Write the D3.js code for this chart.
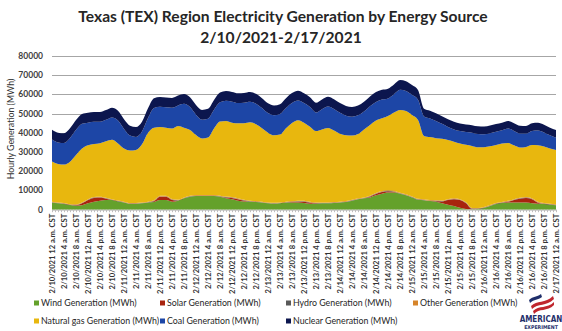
<!DOCTYPE html>
<html>
<head>
<meta charset="utf-8">
<script src="https://cdn.jsdelivr.net/npm/d3@7"></script>
<style>
  body { margin: 0; background: #fff; }
  svg { display: block; font-family: Lato, "Open Sans", sans-serif; }
</style>
</head>
<body>
<div id="chart"></div>
<script>
// Hourly generation by source, sampled every 2 hours from 2/10 12 a.m. to 2/17 12 a.m. (MWh)
const wind = [3700, 3300, 3000, 2400, 2100, 2300, 3300, 4200, 4700, 5000, 5000, 4300, 3700, 3000, 3000, 3300,
  3700, 4000, 5000, 5000, 4200, 4700, 5900, 6800, 7100, 7100, 7100, 7100, 6800, 5900, 5400, 4700,
  4300, 4200, 4000, 3700, 3300, 3100, 3300, 3700, 3800, 3700, 3500, 3100, 3100, 3300, 3300, 3500,
  3700, 4000, 4700, 5400, 5900, 6400, 7500, 8300, 8900, 8900, 8300, 7500, 6400, 5200, 4900, 4500,
  4200, 3300, 2600, 1900, 1000, 400, 200, 400, 900, 1900, 3000, 3500, 3700, 3800, 3800, 3700,
  3300, 3100, 3000, 2600, 2300];
const solar = [0, 0, 0, 0, 200, 1000, 1700, 1900, 1600, 700, 0, 0, 0, 0, 0, 0,
  0, 400, 1700, 1700, 900, 0, 0, 0, 0, 0, 0, 0, 0, 500, 700, 700,
  400, 0, 0, 0, 0, 0, 0, 0, 200, 500, 700, 500, 200, 0, 0, 0,
  0, 0, 0, 0, 0, 400, 700, 900, 700, 400, 0, 0, 0, 0, 0, 0,
  200, 1000, 2400, 3500, 4000, 3000, 200, 0, 0, 0, 0, 0, 400, 1200, 1900, 2400,
  2100, 500, 0, 0, 0];
const hydro = [200, 200, 200, 200, 200, 200, 200, 200, 200, 200, 200, 200, 200, 200, 200, 200,
  200, 200, 200, 200, 200, 200, 200, 200, 200, 200, 200, 200, 200, 200, 200, 200,
  200, 200, 200, 200, 200, 200, 200, 200, 200, 200, 200, 200, 200, 200, 200, 200,
  200, 200, 200, 200, 200, 200, 200, 200, 200, 200, 200, 200, 200, 200, 200, 200,
  200, 200, 200, 200, 200, 200, 200, 200, 200, 200, 200, 200, 200, 200, 200, 200,
  200, 200, 200, 200, 200];
const other = [300, 300, 300, 300, 300, 300, 300, 300, 300, 300, 300, 300, 300, 300, 300, 300,
  300, 300, 300, 300, 300, 300, 300, 300, 300, 300, 300, 300, 300, 300, 300, 300,
  300, 300, 300, 300, 300, 300, 300, 300, 300, 300, 300, 300, 300, 300, 300, 300,
  300, 300, 300, 300, 300, 300, 300, 300, 300, 300, 300, 300, 300, 300, 300, 300,
  300, 300, 300, 300, 300, 300, 300, 300, 300, 300, 300, 300, 300, 300, 300, 300,
  300, 300, 300, 300, 300];
const gas = [20900, 20000, 20000, 22100, 25700, 28100, 28100, 27600, 27800, 29400, 30900, 29700, 27600, 27300, 27600, 30300,
  35900, 37800, 35900, 35400, 36600, 38400, 36300, 34200, 31300, 29500, 30000, 34700, 38600, 39300, 38700, 39100,
  39800, 40800, 40000, 38200, 36300, 35100, 35300, 38200, 40600, 41900, 40600, 39100, 37100, 38000, 38700, 37200,
  35300, 34200, 33400, 33500, 35400, 36800, 37700, 37900, 38700, 40800, 43100, 43400, 42400, 41000, 33000, 32800,
  32300, 32100, 30800, 29500, 29000, 29900, 32300, 31600, 31100, 30600, 30200, 30400, 30100, 28000, 26200, 26100,
  27800, 29500, 29400, 28800, 28300];
const coal = [11400, 11200, 11200, 12300, 13100, 12800, 11700, 11600, 11200, 11200, 11600, 11900, 10200, 7800, 6800, 6600,
  7600, 10200, 10500, 10700, 10900, 10700, 12400, 11900, 10500, 9700, 9800, 9700, 10000, 10500, 10900, 10500,
  10700, 10700, 10700, 10500, 10200, 10400, 10700, 10500, 10500, 10200, 10200, 10200, 9700, 10500, 11200, 11200,
  10900, 10200, 9800, 9700, 9300, 9700, 9700, 9700, 9100, 9500, 10500, 10400, 10500, 10500, 10100, 9700,
  9000, 7800, 6800, 6400, 6400, 6600, 6800, 6900, 6800, 6800, 6900, 6900, 7500, 7500, 7300, 6900,
  7300, 7600, 7300, 6800, 6400];
const nuclear = [5100, 5100, 5100, 5100, 5100, 5100, 5100, 5100, 5100, 5100, 5100, 5100, 5100, 5100, 5100, 5100,
  5100, 5100, 5100, 5100, 5100, 5100, 5100, 5100, 5100, 5100, 5100, 5100, 5100, 5100, 5100, 5100,
  5100, 5100, 5100, 5100, 5100, 5100, 5100, 5100, 5100, 5100, 5100, 5100, 5100, 5100, 5100, 5100,
  5100, 5100, 5100, 5100, 5100, 5100, 5100, 5100, 5100, 5100, 5100, 5100, 5100, 5100, 4000, 4000,
  4000, 4000, 4000, 4000, 4000, 4000, 4000, 4000, 4000, 4000, 4000, 4000, 4000, 4000, 4000, 4000,
  4000, 4000, 4000, 4000, 4000];

// x-axis label parts, one label every 4 hours
const labelDays = ['2/10/2021', '2/11/2021', '2/12/2021', '2/13/2021', '2/14/2021', '2/15/2021', '2/16/2021', '2/17/2021'];
const labelTimes = ['12 a.m.', '4 a.m.', '8 a.m.', '12 p.m.', '4 p.m.', '8 p.m.'];
const yTicks = [0, 10000, 20000, 30000, 40000, 50000, 60000, 70000, 80000];

const series = [
  { key: 'wind', name: 'Wind Generation (MWh)', color: '#64a12b', values: wind },
  { key: 'solar', name: 'Solar Generation (MWh)', color: '#a8240e', values: solar },
  { key: 'hydro', name: 'Hydro Generation (MWh)', color: '#595959', values: hydro },
  { key: 'other', name: 'Other Generation (MWh)', color: '#d6842a', values: other },
  { key: 'gas', name: 'Natural gas Generation (MWh)', color: '#e8b70e', values: gas },
  { key: 'coal', name: 'Coal Generation (MWh)', color: '#1d46a6', values: coal },
  { key: 'nuclear', name: 'Nuclear Generation (MWh)', color: '#0c164e', values: nuclear }
];

const width = 562;
const height = 331;
const margin = { left: 52, right: 6, top: 56, bottom: 121 };

// one row per sample, hour offset from the start
const rows = wind.map((_, i) => {
  const row = { hour: i * 2 };
  series.forEach(s => { row[s.key] = s.values[i]; });
  return row;
});

const labels = [];
labelDays.forEach((day, di) => {
  labelTimes.forEach((t, ti) => {
    if (di < labelDays.length - 1 || ti === 0) labels.push({ hour: di * 24 + ti * 4, text: `${day} ${t} CST` });
  });
});

const svg = d3.select('#chart')
  .append('svg')
  .attr('width', width)
  .attr('height', height);

svg.append('rect').attr('width', width).attr('height', height).attr('fill', '#fff');

const x = d3.scaleLinear().domain([0, 168]).range([margin.left, width - margin.right]);
const y = d3.scaleLinear().domain([0, 80000]).range([height - margin.bottom - 0.3, margin.top]);

// title
const title = svg.append('g')
  .attr('font-weight', 700)
  .attr('fill', '#262626')
  .attr('text-anchor', 'middle');
title.append('text').attr('x', 283).attr('y', 22).attr('font-size', 15.6)
  .text('Texas (TEX) Region Electricity Generation by Energy Source');
title.append('text').attr('x', 281).attr('y', 43).attr('font-size', 15.6)
  .text('2/10/2021-2/17/2021');

// gridlines
svg.append('g')
  .selectAll('line')
  .data(yTicks.slice(1))
  .enter()
  .append('line')
  .attr('x1', x(0))
  .attr('x2', x(168))
  .attr('y1', d => Math.round(y(d)) + 0.5)
  .attr('y2', d => Math.round(y(d)) + 0.5)
  .attr('stroke', '#a6a6a6')
  .attr('stroke-width', 1);

// y tick labels
svg.append('g')
  .selectAll('text')
  .data(yTicks)
  .enter()
  .append('text')
  .attr('x', 43)
  .attr('y', d => y(d) + 3)
  .attr('text-anchor', 'end')
  .attr('font-size', 8.5)
  .attr('font-weight', 700)
  .attr('fill', '#404040')
  .text(d => d);

svg.append('text')
  .attr('transform', `translate(14,${129}) rotate(-90)`)
  .attr('text-anchor', 'middle')
  .attr('font-size', 8.8)
  .attr('fill', '#333')
  .text('Hourly Generation (MWh)');

// stacked areas
const stack = d3.stack().keys(series.map(s => s.key));
const layers = stack(rows);

const area = d3.area()
  .x(d => x(d.data.hour))
  .y0(d => y(d[0]))
  .y1(d => y(d[1]))
  .curve(d3.curveMonotoneX);

svg.append('g')
  .selectAll('path')
  .data(layers)
  .enter()
  .append('path')
  .attr('d', area)
  .attr('fill', (d, i) => series[i].color);

// x axis with hourly ticks
svg.append('g')
  .attr('transform', `translate(0,${y(0)})`)
  .call(d3.axisBottom(x).tickValues(d3.range(0, 169)).tickSize(2.5).tickSizeOuter(0).tickFormat(''))
  .call(g => g.select('.domain').attr('stroke', '#bfbfbf'))
  .call(g => g.selectAll('.tick line').attr('stroke', '#bfbfbf'));

svg.append('g')
  .selectAll('text')
  .data(labels)
  .enter()
  .append('text')
  .attr('transform', d => `translate(${x(d.hour) + 2.8},${y(0) + 4}) rotate(-90)`)
  .attr('text-anchor', 'end')
  .attr('font-size', 7.6)
  .attr('font-weight', 700)
  .attr('fill', '#333')
  .text(d => d.text);

// legend, two rows
const legendPos = [[34, 306], [160, 306], [286, 306], [413, 306], [34, 324], [160, 324], [286, 324]];
const legendOrder = ['wind', 'solar', 'hydro', 'other', 'gas', 'coal', 'nuclear'];
const legend = svg.append('g')
  .selectAll('g')
  .data(legendOrder.map(k => series.find(s => s.key === k)))
  .enter()
  .append('g')
  .attr('transform', (d, i) => `translate(${legendPos[i][0]},${legendPos[i][1]})`);

legend.append('rect')
  .attr('x', 0)
  .attr('y', -5.5)
  .attr('width', 5)
  .attr('height', 5)
  .attr('fill', d => d.color);

legend.append('text')
  .attr('x', 7)
  .attr('y', 0)
  .attr('font-size', 8.8)
  .attr('fill', '#262626')
  .text(d => d.name);

// logo mark
const logo = svg.append('g').attr('transform', 'translate(541,0)');
logo.append('path')
  .attr('d', 'M-10,306 C-4,300 4,304 12,296 L13,299 C5,307 -3,303 -9,309 Z')
  .attr('fill', '#c0262d');
logo.append('path')
  .attr('d', 'M-8,311 C-2,305 6,309 13,302 L13,305 C6,312 -2,308 -7,314 Z')
  .attr('fill', '#c0262d');
logo.append('path')
  .attr('d', 'M-12,300 C-8,296 -4,297 0,294 L1,297 C-3,300 -7,299 -11,303 Z')
  .attr('fill', '#1f2f6b');
logo.append('text')
  .attr('x', 0)
  .attr('y', 322)
  .attr('text-anchor', 'middle')
  .attr('font-family', '"DejaVu Sans Condensed", "DejaVu Sans", sans-serif')
  .attr('font-stretch', 'condensed')
  .attr('font-weight', 700)
  .attr('font-size', 8)
  .attr('fill', '#1f2f6b')
  .text('AMERICAN');
logo.append('text')
  .attr('x', 0)
  .attr('y', 328.5)
  .attr('text-anchor', 'middle')
  .attr('font-family', '"DejaVu Sans Condensed", "DejaVu Sans", sans-serif')
  .attr('font-stretch', 'condensed')
  .attr('font-weight', 700)
  .attr('font-size', 5.2)
  .attr('fill', '#1f2f6b')
  .text('EXPERIMENT');
</script>
</body>
</html>
